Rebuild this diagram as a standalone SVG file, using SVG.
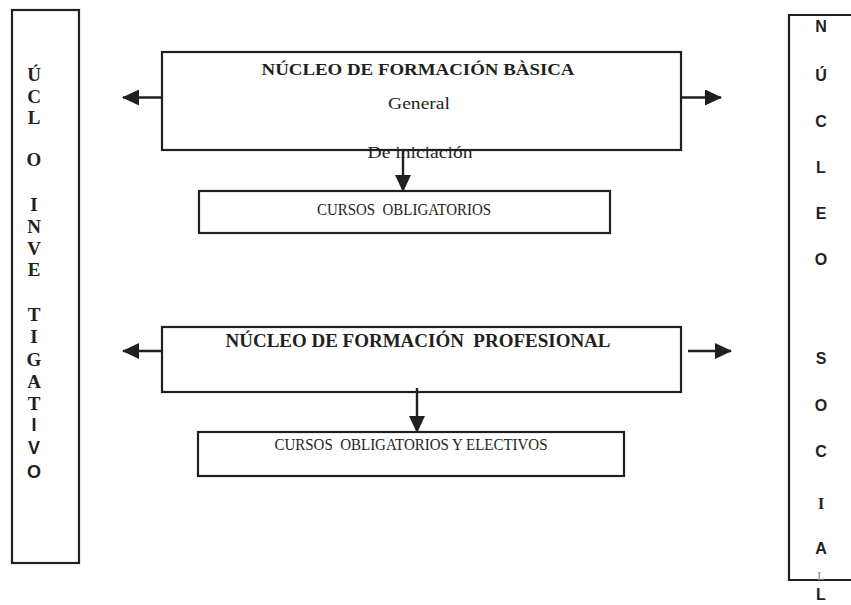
<svg xmlns="http://www.w3.org/2000/svg" width="851" height="605" viewBox="0 0 851 605">
<style>
.box{fill:#fff;stroke:#231f20;stroke-width:2.2}
.ln{stroke:#231f20;stroke-width:2.4;fill:none}
.ah{fill:#231f20}
.vs{font-family:"Liberation Serif",serif;font-weight:bold;font-size:19px;fill:#231f20;text-anchor:middle}
.vss{font-family:"Liberation Sans",Arial,sans-serif;font-weight:bold;font-size:18px;fill:#231f20;text-anchor:middle}
.rs{font-family:"Liberation Sans",Arial,sans-serif;font-weight:bold;font-size:16px;fill:#231f20;text-anchor:middle}
.ti{font-family:"Liberation Serif",serif;font-weight:bold;font-size:17px;fill:#231f20;text-anchor:middle;white-space:pre}
.tx{font-family:"Liberation Serif",serif;font-size:16px;fill:#231f20;text-anchor:middle;white-space:pre}
</style>
<defs>
<marker id="arr" markerWidth="17" markerHeight="16" refX="16" refY="8" orient="auto" markerUnits="userSpaceOnUse" viewBox="0 0 17 16">
<path d="M0,0 L17,8 L0,16 Z" class="ah"/>
</marker>
</defs>

<g id="left-column">
<rect class="box" x="12" y="10" width="67" height="553"/>
<text class="vs" x="34" y="81">Ú</text>
<text class="vs" x="34" y="103">C</text>
<text class="vs" x="34" y="124">L</text>
<text class="vs" x="34" y="166">O</text>
<text class="vs" x="34" y="211">I</text>
<text class="vs" x="34" y="233">N</text>
<text class="vs" x="34" y="255">V</text>
<text class="vs" x="34" y="276">E</text>
<text class="vs" x="34" y="321">T</text>
<text class="vs" x="34" y="343">I</text>
<text class="vs" x="34" y="366">G</text>
<text class="vs" x="34" y="388">A</text>
<text class="vs" x="34" y="410">T</text>
<text class="vss" x="34" y="431">I</text>
<text class="vss" x="34" y="454">V</text>
<text class="vss" x="34" y="478">O</text>
</g>

<g id="right-column">
<path class="box" d="M860,15 L789,15 L789,580 L860,580"/>
<text class="rs" x="821" y="32">N</text>
<text class="rs" x="821" y="81">Ú</text>
<text class="rs" x="821" y="127">C</text>
<text class="rs" x="821" y="173">L</text>
<text class="rs" x="821" y="219">E</text>
<text class="rs" x="821" y="265">O</text>
<text class="rs" x="821" y="364">S</text>
<text class="rs" x="821" y="411">O</text>
<text class="rs" x="821" y="457">C</text>
<text class="vs" x="821" y="509" style="font-size:16px">I</text>
<text class="rs" x="821" y="554">A</text>
<text x="821" y="580" style="font-family:'Liberation Serif',serif;font-size:12px;fill:#888;text-anchor:middle">L</text>
<text class="rs" x="821" y="600">L</text>
</g>

<g id="basica">
<rect class="box" x="162" y="52" width="519" height="98"/>
<text class="ti" x="418" y="75" textLength="313" lengthAdjust="spacingAndGlyphs">NÚCLEO DE FORMACIÓN BÀSICA</text>
<text class="tx" x="419" y="109" style="font-size:17px" textLength="62" lengthAdjust="spacingAndGlyphs">General</text>
</g>

<g id="obligatorios">
<rect class="box" x="199" y="191" width="411" height="42"/>
<text class="tx" x="404" y="215" style="font-size:16px" textLength="174" lengthAdjust="spacingAndGlyphs">CURSOS  OBLIGATORIOS</text>
</g>

<g id="profesional">
<rect class="box" x="162" y="327" width="519" height="65"/>
<text class="ti" x="418" y="347" style="font-size:18px" textLength="385" lengthAdjust="spacingAndGlyphs">NÚCLEO DE FORMACIÓN  PROFESIONAL</text>
</g>

<g id="obligatorios-electivos">
<rect class="box" x="198" y="432" width="426" height="44"/>
<text class="tx" x="411" y="450" style="font-size:16px" textLength="273" lengthAdjust="spacingAndGlyphs">CURSOS  OBLIGATORIOS Y ELECTIVOS</text>
</g>

<g id="connectors">
<line class="ln" x1="162" y1="97.5" x2="123" y2="97.5" marker-end="url(#arr)"/>
<line class="ln" x1="681" y1="97.5" x2="721" y2="97.5" marker-end="url(#arr)"/>
<line class="ln" x1="403" y1="150" x2="403" y2="191" marker-end="url(#arr)"/>
<line class="ln" x1="162" y1="351" x2="123" y2="351" marker-end="url(#arr)"/>
<line class="ln" x1="688" y1="351" x2="731" y2="351" marker-end="url(#arr)"/>
<line class="ln" x1="417" y1="388" x2="417" y2="432" marker-end="url(#arr)"/>
</g>

<g id="iniciacion-label">
<text class="tx" x="420" y="158" style="font-size:16px" textLength="105" lengthAdjust="spacingAndGlyphs">De iniciación</text>
</g>
</svg>
